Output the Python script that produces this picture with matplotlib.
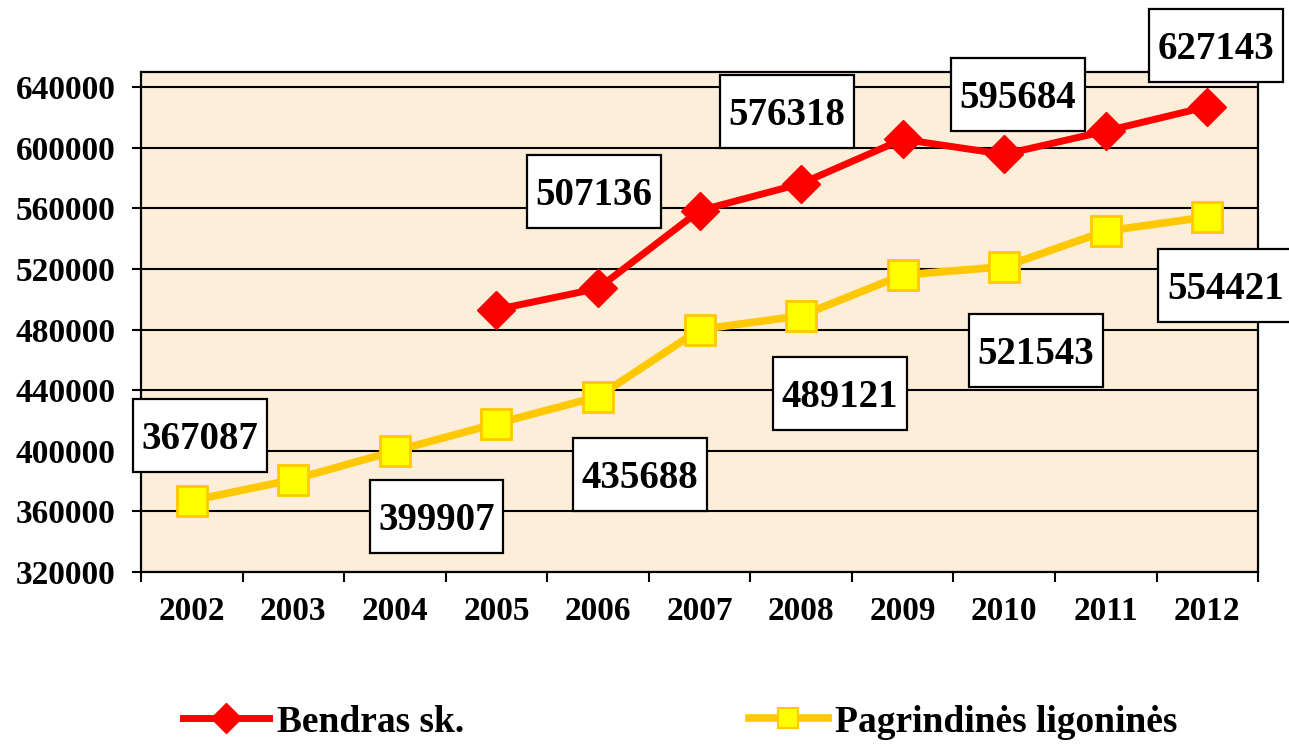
import matplotlib.pyplot as plt
import numpy as np
from matplotlib.lines import Line2D
from matplotlib.path import Path

plt.rcParams['font.family'] = ['Liberation Serif', 'DejaVu Serif']
plt.rcParams['font.weight'] = 'bold'

years = ['2002', '2003', '2004', '2005', '2006', '2007', '2008', '2009', '2010', '2011', '2012']
bendras = [np.nan, np.nan, np.nan, 493200, 507136, 558500, 576318, 605600, 595684, 611000, 627143]
pagrindines = [367087, 381000, 399907, 418000, 435688, 480000, 489121, 516000, 521543, 545000, 554421]

# which points carry a value box, and where the box sits (offset in points)
bendras_labels = {4: (-3, 67), 6: (-10, 49), 8: (10, 40), 10: (6, 41)}
pagr_labels = {0: (6, 44), 2: (30, -50), 4: (30, -59), 6: (28, -59), 8: (23, -63), 10: (13, -52)}

yticks = [320000, 360000, 400000, 440000, 480000, 520000, 560000, 600000, 640000]

red = '#FF0000'
gold = '#FFC800'
yellow = '#FFFF00'


def label_box(x0, y0, width, height, mutation_size):
    # wider vertical padding than horizontal, box nudged up so digits sit centred
    padx = 0.22 * mutation_size
    pady = 0.46 * mutation_size
    x0 -= padx
    y0 -= pady - 0.1 * mutation_size
    x1 = x0 + width + 2 * padx
    y1 = y0 + height + 2 * pady
    return Path([(x0, y0), (x1, y0), (x1, y1), (x0, y1), (x0, y0)], closed=True)


fig = plt.figure(figsize=(12.89, 7.44), dpi=100)
ax = fig.add_axes([0.1094, 0.2312, 0.976 - 0.1094, 0.9032 - 0.2312])
ax.set_facecolor('#FCEED8')

x = np.arange(len(years))
ax.plot(x, pagrindines, color=gold, lw=5.5, marker='s', ms=22,
        mfc=yellow, mec=gold, mew=2, zorder=3)
ax.plot(x, bendras, color=red, lw=5, marker='D', ms=19,
        mfc=red, mec=red, mew=1, zorder=4)

for series, labels in ((bendras, bendras_labels), (pagrindines, pagr_labels)):
    for i, off in labels.items():
        ax.annotate(str(series[i]), xy=(x[i], series[i]), xytext=off,
                    textcoords='offset points', ha='center', va='center',
                    fontsize=28, fontweight='bold', zorder=6,
                    bbox=dict(boxstyle=label_box, fc='white', ec='black', lw=1.6),
                    annotation_clip=False)

ax.set_xlim(-0.5, len(years) - 0.5)
ax.set_ylim(320000, 650000)
ax.set_yticks(yticks)
ax.set_yticklabels([str(v) for v in yticks])
ax.set_xticks(x)
ax.set_xticklabels(years)
ax.set_xticks(np.arange(len(years) + 1) - 0.5, minor=True)

ax.grid(axis='y', color='black', lw=1.5)
ax.set_axisbelow(True)
ax.tick_params(axis='y', length=6.5, width=1.5, pad=12, labelsize=24)
ax.tick_params(axis='x', which='major', length=0, pad=17, labelsize=24)
ax.tick_params(axis='x', which='minor', length=7, width=1.5)
for lab in ax.get_xticklabels() + ax.get_yticklabels():
    lab.set_fontweight('bold')
for sp in ax.spines.values():
    sp.set_linewidth(1.6)

h1 = Line2D([], [], color=red, lw=5, marker='D', ms=15, mfc=red, mec=red)
h2 = Line2D([], [], color=gold, lw=5.5, marker='s', ms=14, mfc=yellow, mec=gold, mew=1.5)
fig.legend([h1], ['Bendras sk.'], loc='center left', bbox_to_anchor=(183 / 1289, 1 - 722 / 744),
           frameon=False, borderpad=0, borderaxespad=0, handlelength=2.3, handletextpad=0.2,
           prop={'size': 27, 'weight': 'bold'})
fig.legend([h2], ['Pagrindinės ligoninės'], loc='center left', bbox_to_anchor=(749 / 1289, 1 - 722 / 744),
           frameon=False, borderpad=0, borderaxespad=0, handlelength=2.1, handletextpad=0.2,
           prop={'size': 27, 'weight': 'bold'})

fig.savefig('out.png', dpi=100)
